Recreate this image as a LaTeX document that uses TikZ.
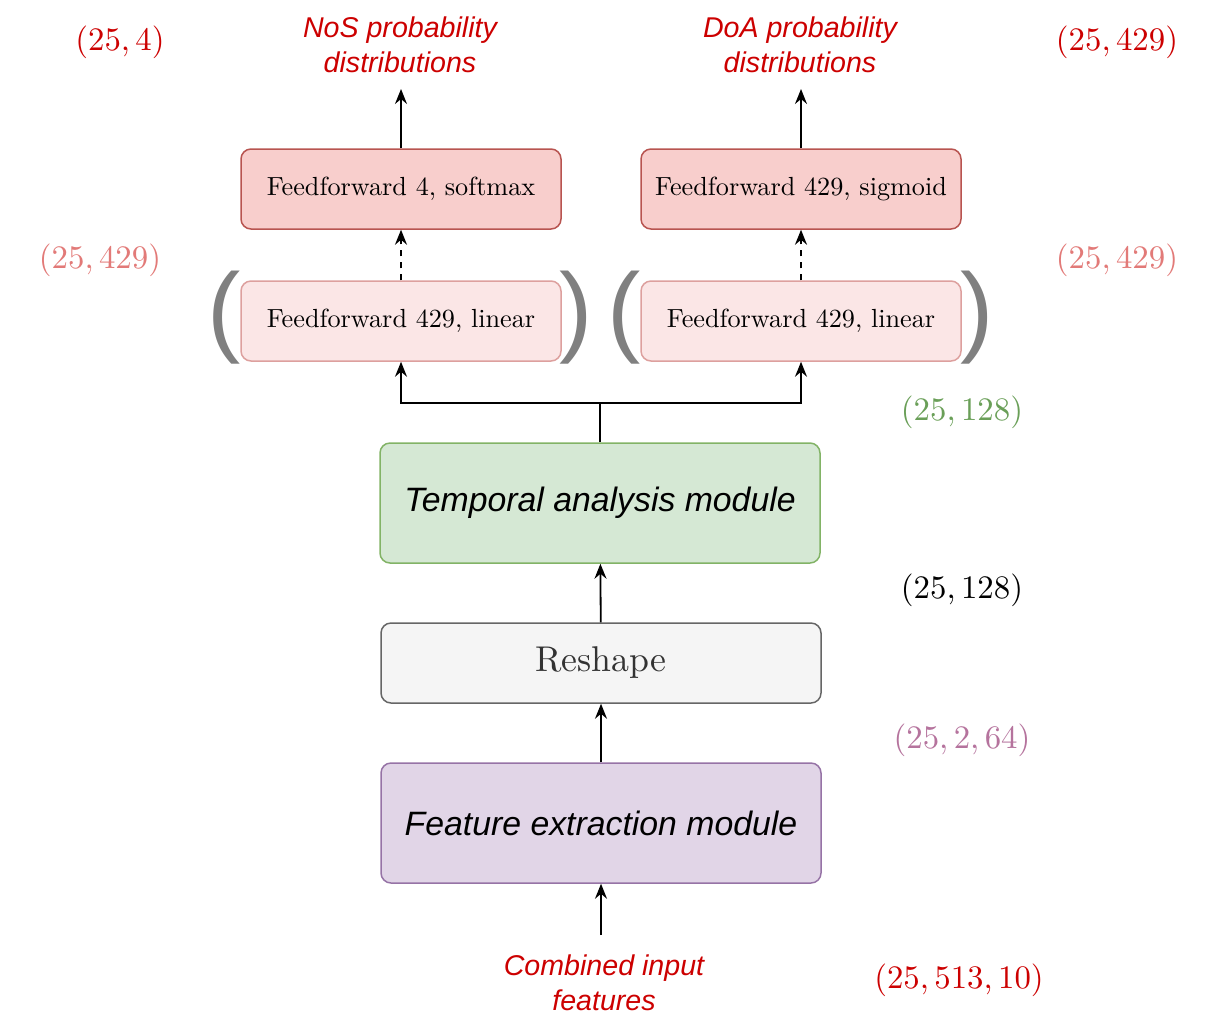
\documentclass[tikz,border=0pt]{standalone}
\usepackage{fontspec}
\newfontfamily\arialfont{Liberation Sans}
\newfontfamily\lmten{lmroman10-regular}[Extension=.otf]
\usetikzlibrary{arrows.meta,positioning,calc}
\usepackage{color}
\definecolor{ffFill}{HTML}{F8CECC}
\definecolor{ffLine}{HTML}{B85450}
\definecolor{linFill}{HTML}{FBE6E6}
\definecolor{linLine}{HTML}{DDA09E}
\definecolor{tamFill}{HTML}{D5E8D4}
\definecolor{tamLine}{HTML}{82B366}
\definecolor{resFill}{HTML}{F5F5F5}
\definecolor{resLine}{HTML}{666666}
\definecolor{resText}{HTML}{333333}
\definecolor{femFill}{HTML}{E1D5E7}
\definecolor{femLine}{HTML}{9673A6}
\definecolor{capRed}{HTML}{CC0000}
\definecolor{dimPink}{HTML}{E27A78}
\definecolor{dimGreen}{HTML}{6A9F58}
\definecolor{dimPurple}{HTML}{B5739D}
\definecolor{parGray}{HTML}{808080}

\begin{document}
\begin{tikzpicture}[x=0.5pt,y=-0.5pt,
	box/.style={draw,rounded corners=5pt,line width=0.75pt,minimum width=160pt,minimum height=40pt,inner sep=0pt},
	ffbox/.style={box,fill=ffFill,draw=ffLine,font=\lmten\fontsize{13.1}{15}\selectfont},
	linbox/.style={box,fill=linFill,draw=linLine,font=\lmten\fontsize{13.1}{15}\selectfont},
	modbox/.style={box,minimum width=220pt,minimum height=60pt,font=\arialfont\itshape\fontsize{16.9}{20}\selectfont},
	dimlabel/.style={font=\lmten\fontsize{16.4}{20}\selectfont},
	caption/.style={text=capRed,align=center,font=\arialfont\itshape\fontsize{14.3}{17.5}\selectfont},
	paren/.style={text=parGray,font=\arialfont\fontsize{50}{50}\selectfont,inner sep=0pt},
	arr/.style={-{Stealth[length=7.5pt,width=6pt,inset=2.5pt]},line width=0.9pt}]
	\useasboundingbox (0,0) rectangle (1218,1034);
	% output heads
	\node at (401,189)[ffbox] (nosff) {Feedforward 4, softmax};
	\node at (801,189)[ffbox] (doaff) {Feedforward 429, sigmoid};
	\node at (401,321)[linbox] (noslin) {Feedforward 429, linear};
	\node at (801,321)[linbox] (doalin) {Feedforward 429, linear};
	\node at (224,318)[paren] (nosopen) {(};
	\node at (576,318)[paren] (nosclose) {)};
	\node at (624,318)[paren] (doaopen) {(};
	\node at (977,318)[paren] (doaclose) {)};
	% modules
	\node at (600,503)[modbox,fill=tamFill,draw=tamLine] (tam) {Temporal analysis module};
	\node at (601,663)[box,minimum width=220pt,fill=resFill,draw=resLine,text=resText,font=\lmten\fontsize{17.9}{20}\selectfont] (reshape) {Reshape};
	\node at (601,823)[modbox,fill=femFill,draw=femLine] (fem) {Feature extraction module};
	% texts
	\node at (400,45)[caption] (nosout) {NoS probability\\distributions};
	\node at (800,45)[caption] (doaout) {DoA probability\\distributions};
	\node at (604,983)[caption] (input) {Combined input\\features};
	\node at (120,42)[dimlabel,text=capRed] (dimnos) {(25,\,4)};
	\node at (1117,42)[dimlabel,text=capRed] (dimdoa) {(25,\,429)};
	\node at (100,260)[dimlabel,text=dimPink] (dimnoslin) {(25,\,429)};
	\node at (1117,260)[dimlabel,text=dimPink] (dimdoalin) {(25,\,429)};
	\node at (962,412)[dimlabel,text=dimGreen] (dimtam) {(25,\,128)};
	\node at (962,590)[dimlabel] (dimres) {(25,\,128)};
	\node at (962,740)[dimlabel,text=dimPurple] (dimfem) {(25,\,2,\,64)};
	\node at (959,980)[dimlabel,text=capRed] (diminput) {(25,\,513,\,10)};
	\coordinate (split) at (600,403);
	\coordinate (instart) at (601,935);
	\coordinate (nosend) at (401,89);
	\coordinate (doaend) at (801,89);
	% connectors
	\draw[arr] (instart) -- (fem);
	\draw[arr] (fem) -- (reshape);
	\draw[arr] (reshape) -- (tam);
	\draw[line width=0.9pt] (tam.north) -- (split);
	\draw[arr] (split) -| (noslin.south);
	\draw[arr] (split) -| (doalin.south);
	\draw[arr,dashed] (noslin) -- (nosff);
	\draw[arr,dashed] (doalin) -- (doaff);
	\draw[arr] (nosff) -- (nosend);
	\draw[arr] (doaff) -- (doaend);
\end{tikzpicture}
\end{document}
